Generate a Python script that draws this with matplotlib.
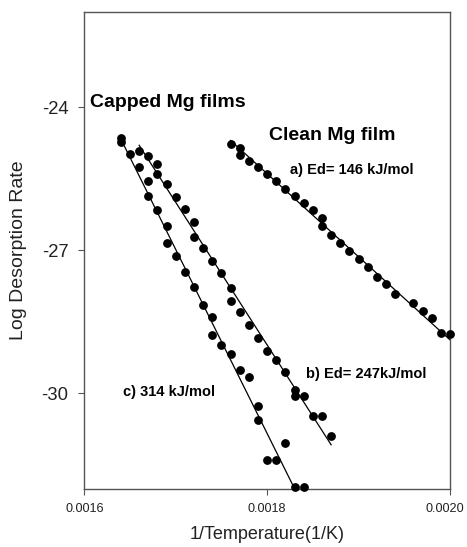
import numpy as np
import matplotlib
matplotlib.use("Agg")
import matplotlib.pyplot as plt
from matplotlib.transforms import ScaledTranslation

plt.rcParams['font.family'] = ['Liberation Sans', 'DejaVu Sans']

# a) clean Mg film
clean_x = [0.00176, 0.00177, 0.00177, 0.00178, 0.00179, 0.00180, 0.00181, 0.00182,
           0.00183, 0.00184, 0.00185, 0.00186, 0.00186, 0.00187, 0.00188, 0.00189,
           0.00190, 0.00191, 0.00192, 0.00193, 0.00194, 0.00196, 0.00197, 0.00198,
           0.00199, 0.00200]
clean_y = [-24.78, -24.85, -25.00, -25.13, -25.26, -25.41, -25.55, -25.71,
           -25.86, -26.01, -26.15, -26.33, -26.50, -26.69, -26.85, -27.02,
           -27.19, -27.35, -27.56, -27.70, -27.92, -28.10, -28.27, -28.42,
           -28.73, -28.75]

# b) capped film, 247 kJ/mol
capb_x = [0.00166, 0.00167, 0.00168, 0.00168, 0.00169, 0.00170, 0.00171, 0.00172,
          0.00172, 0.00173, 0.00174, 0.00175, 0.00176, 0.00176, 0.00177, 0.00178,
          0.00179, 0.00180, 0.00181, 0.00182, 0.00183, 0.00183, 0.00184, 0.00185,
          0.00186, 0.00187]
capb_y = [-24.92, -25.03, -25.19, -25.41, -25.62, -25.89, -26.14, -26.41,
          -26.72, -26.96, -27.23, -27.47, -27.80, -28.07, -28.30, -28.56,
          -28.84, -29.12, -29.31, -29.55, -29.94, -30.06, -30.06, -30.47,
          -30.47, -30.89]

# c) capped film, 314 kJ/mol
capc_x = [0.00164, 0.00164, 0.00165, 0.00166, 0.00167, 0.00167, 0.00168, 0.00169,
          0.00169, 0.00170, 0.00171, 0.00172, 0.00173, 0.00174, 0.00174, 0.00175,
          0.00176, 0.00177, 0.00178, 0.00179, 0.00179, 0.00180, 0.00181, 0.00182,
          0.00183, 0.00184]
capc_y = [-24.64, -24.74, -24.99, -25.26, -25.54, -25.86, -26.15, -26.50,
          -26.84, -27.12, -27.45, -27.78, -28.14, -28.41, -28.77, -28.98,
          -29.18, -29.51, -29.66, -30.26, -30.57, -31.40, -31.40, -31.04,
          -31.96, -31.96]

# fitted lines (end points)
fit_a_x = [0.00176, 0.00200]
fit_a_y = [-24.70, -28.88]
fit_b_x = [0.00166, 0.00187]
fit_b_y = [-24.80, -31.08]
fit_c_x = [0.00164, 0.00183]
fit_c_y = [-24.67, -32.00]

xticks = [0.0016, 0.0018, 0.0020]
xticklabels = ['0.0016', '0.0018', '0.0020']
yticks = [-30, -27, -24]
yticklabels = ['-30', '-27', '-24']

fig = plt.figure(figsize=(4.67, 5.47), dpi=100)
ax = fig.add_axes([0.1805, 0.1066, 0.7831, 0.872])

for fx, fy in [(fit_a_x, fit_a_y), (fit_b_x, fit_b_y), (fit_c_x, fit_c_y)]:
    ax.plot(fx, fy, color='black', lw=0.9)

for px, py in [(clean_x, clean_y), (capb_x, capb_y), (capc_x, capc_y)]:
    ax.plot(px, py, 'o', color='black', markersize=5.3, clip_on=False, zorder=3)

ax.set_xlim(0.0016, 0.0020)
ax.set_ylim(-32, -22)
ax.set_xticks(xticks)
ax.set_xticklabels(xticklabels, fontsize=9.1, color='#222222')
ax.set_yticks(yticks)
ax.set_yticklabels(yticklabels, fontsize=13.3, color='#222222')
ax.tick_params(axis='both', direction='out', length=4.5, width=0.8, color='#555555')
ax.tick_params(axis='x', pad=5.5)
ax.tick_params(axis='y', pad=7)

# keep the last x tick label inside the figure
last = ax.get_xticklabels()[-1]
last.set_transform(last.get_transform() + ScaledTranslation(-5 / 100, 0, fig.dpi_scale_trans))

for s in ax.spines.values():
    s.set_color('#555555')
    s.set_linewidth(1.0)

ax.set_xlabel('1/Temperature(1/K)', fontsize=13, color='#222222', labelpad=8)
ax.set_ylabel('Log Desorption Rate', fontsize=14, color='#222222', labelpad=10)

ax.text(0.001606, -24.0, 'Capped Mg films', fontsize=14, fontweight='bold')
ax.text(0.001802, -24.70, 'Clean Mg film', fontsize=14, fontweight='bold')
ax.text(0.001825, -25.40, 'a) Ed= 146 kJ/mol', fontsize=10.5, fontweight='bold')
ax.text(0.0018425, -29.68, 'b) Ed= 247kJ/mol', fontsize=10.5, fontweight='bold')
ax.text(0.001642, -30.05, 'c) 314 kJ/mol', fontsize=10.5, fontweight='bold')

plt.savefig('out.png', dpi=100)
